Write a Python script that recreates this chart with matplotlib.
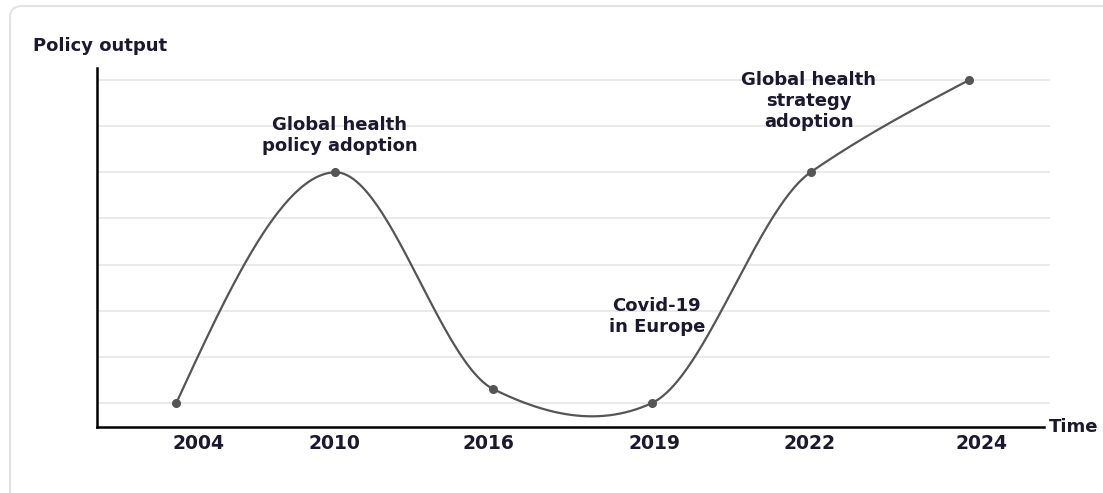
import numpy as np
import matplotlib.pyplot as plt
from matplotlib.patches import FancyBboxPatch
from matplotlib.transforms import IdentityTransform, ScaledTranslation

# data (no y scale shown, values in grid steps)
years = ['2004', '2010', '2016', '2019', '2022', '2024']
output = [0.0, 5.0, 0.3, 0.0, 5.0, 7.0]

notes = ['Global health\npolicy adoption', 'Covid-19\nin Europe',
         'Global health\nstrategy\nadoption']
note_x = [1.03, 3.03, 3.99]
note_y = [5.79, 1.87, 6.55]

# labels in the original are not exactly centred under their points (px)
label_shift = [22, 0, -5, 3, -1, 12]

text_col = '#1c1830'
line_col = '#555555'


def smooth(y, k=0.68, n=60):
    # cardinal-style hermite curve through the points, natural ends
    y = np.asarray(y, float)
    m = np.zeros_like(y)
    m[1:-1] = k * (y[2:] - y[:-2]) / 2
    m[0] = (3 * (y[1] - y[0]) - m[1]) / 2
    m[-1] = (3 * (y[-1] - y[-2]) - m[-2]) / 2
    xs, ys = [], []
    for i in range(len(y) - 1):
        t = np.linspace(0, 1, n)
        h00 = 2 * t**3 - 3 * t**2 + 1
        h10 = t**3 - 2 * t**2 + t
        h01 = -2 * t**3 + 3 * t**2
        h11 = t**3 - t**2
        xs.append(i + t)
        ys.append(h00 * y[i] + h10 * m[i] + h01 * y[i + 1] + h11 * m[i + 1])
    return np.concatenate(xs), np.concatenate(ys)


fig = plt.figure(figsize=(11.03, 4.93), dpi=100)
fig.patch.set_facecolor('white')

# light card border
card = FancyBboxPatch((10, -60), 1300, 493 - 6 + 60,
                      boxstyle='round,pad=0,rounding_size=12',
                      transform=IdentityTransform(), facecolor='white',
                      edgecolor='#e3e3e3', linewidth=1.5, zorder=-10)
fig.patches.append(card)

ax = fig.add_axes([97 / 1103, 66 / 493, (1050 - 97) / 1103, (427 - 68) / 493])
ax.set_facecolor('none')
ax.set_zorder(5)

x = np.arange(len(years))
ax.set_xlim(-0.5, 5.51)
ax.set_ylim(-0.52, 7.26)

for g in range(8):
    ax.axhline(g, color='#e6e6e6', lw=1.2, zorder=0)

cx, cy = smooth(output)
ax.plot(cx, cy, color=line_col, lw=1.6, zorder=2)
ax.plot(x, output, 'o', color=line_col, ms=5.5, zorder=3)

for s, tx, ty in zip(notes, note_x, note_y):
    ax.text(tx, ty, s, ha='center', va='center', fontsize=13,
            fontweight='bold', color=text_col, linespacing=1.2)

ax.set_xticks(x)
ax.set_xticklabels(years, fontsize=13.5, fontweight='bold', color=text_col)
ax.tick_params(axis='x', length=0, pad=5)
ax.set_yticks([])
for lab, dx in zip(ax.get_xticklabels(), label_shift):
    lab.set_transform(lab.get_transform() +
                      ScaledTranslation(dx / 100, 0, fig.dpi_scale_trans))

for side in ['top', 'right']:
    ax.spines[side].set_visible(False)
ax.spines['left'].set_linewidth(1.8)
ax.spines['bottom'].set_linewidth(1.8)
ax.spines['bottom'].set_bounds(-0.5, 5.47)

ax.text(5.5, -0.52, 'Time', ha='left', va='center', fontsize=13,
        fontweight='bold', color=text_col, clip_on=False)
fig.text(33 / 1103, 1 - 46 / 493, 'Policy output', ha='left', va='center',
         fontsize=13, fontweight='bold', color=text_col)

plt.savefig('out.png', dpi=100)
